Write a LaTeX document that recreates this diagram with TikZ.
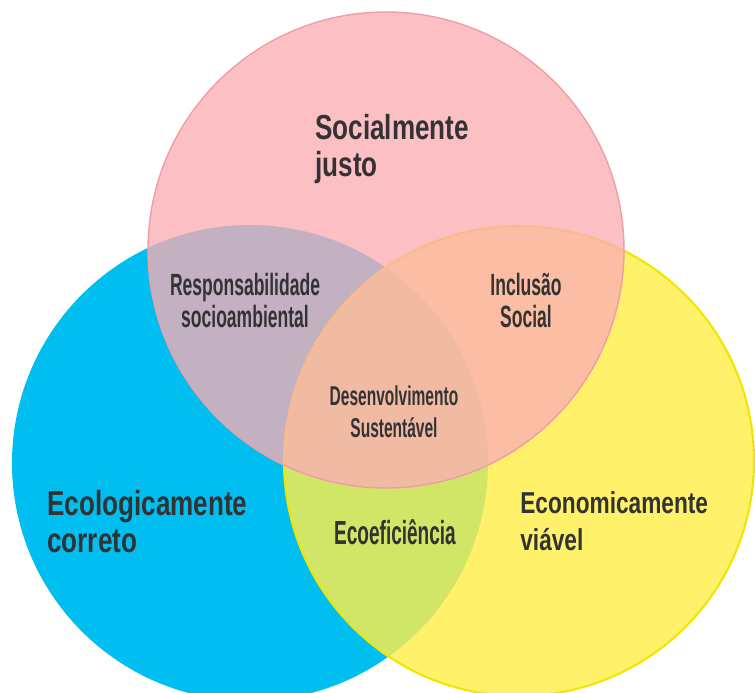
\documentclass[tikz,border=0pt]{standalone}
\usepackage{fontspec}
\setmainfont{Liberation Sans}
\newfontfamily\bigfont[FakeStretch=0.75]{Liberation Sans}
\newfontfamily\midfont[FakeStretch=0.57]{Liberation Sans}
\definecolor{ecoblue}{HTML}{00BEF0}
\definecolor{ecoyellow}{HTML}{FFEE49}
\definecolor{ecoyellowline}{HTML}{F2E600}
\definecolor{socpink}{HTML}{FBAEB4}
\definecolor{socpinkline}{HTML}{EE9EA6}
\definecolor{labelgray}{HTML}{333333}
\tikzset{
  biglabel/.style={text=labelgray,inner sep=0pt,align=left,
    font=\bigfont\bfseries\fontsize{#1}{21}\selectfont},
  biglabel/.default=19.8,
  midlabel/.style={text=labelgray,inner sep=0pt,align=center,
    font=\midfont\bfseries\fontsize{#1}{18.1}\selectfont},
  midlabel/.default=17.5
}
\begin{document}
\begin{tikzpicture}[x=0.02cm,y=-0.02cm]
\useasboundingbox (0,0) rectangle (755,693);
\clip (0,0) rectangle (755,693);
% the three circles
\fill[ecoblue] (250,463) circle[radius=238];
\draw[ecoyellowline,line width=1.2pt,fill=ecoyellow,fill opacity=0.82] (519,461) circle[radius=235];
\draw[socpinkline,line width=0.8pt,fill=socpink,fill opacity=0.78] (386,250) circle[radius=238];
% labels (anchored on the last line)
\node[biglabel,anchor=base west] (social) at (315,176) {Socialmente\\justo};
\node[biglabel,anchor=base west] (ecolog) at (47,552) {Ecologicamente\\correto};
\node[biglabel=17.2,anchor=base west] (econom) at (520,550) {Economicamente\\viável};
\node[midlabel,anchor=base] (respons) at (245,327) {Responsabilidade\\socioambiental};
\node[midlabel,anchor=base] (inclus) at (526,327) {Inclusão\\Social};
\node[midlabel=15.5,anchor=base] (desenv) at (394,437) {Desenvolvimento\\Sustentável};
\node[midlabel=19,anchor=base] (ecoefic) at (395,544) {Ecoeficiência};
\end{tikzpicture}
\end{document}
